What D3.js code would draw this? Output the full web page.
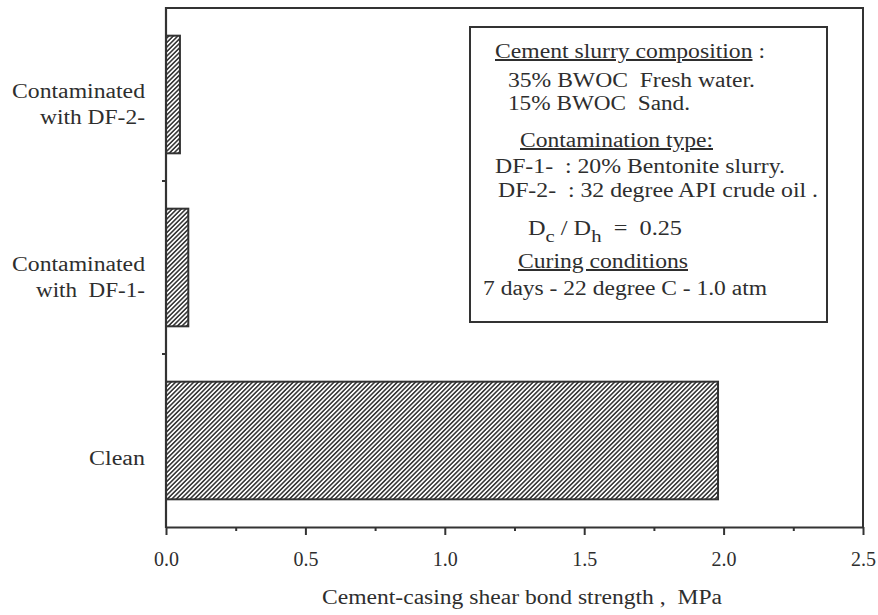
<!DOCTYPE html>
<html>
<head>
<meta charset="utf-8">
<script src="https://cdn.jsdelivr.net/npm/d3@7"></script>
<style>
  html, body { margin: 0; padding: 0; background: #fff; }
  svg text { font-family: "Liberation Serif", "DejaVu Serif", serif; fill: #2e2e2e; white-space: pre; }
  .axis path, .axis line { stroke: #333; }
</style>
</head>
<body>
<svg id="chart" width="878" height="615"></svg>
<script>
// categories, top to bottom as drawn
const CATEGORIES = ["DF-2", "DF-1", "Clean"];
const CATEGORY_LABELS = [
  ["Contaminated", "with DF-2-"],
  ["Contaminated", "with  DF-1-"],
  ["Clean"]
];
// shear bond strength, MPa
const STRENGTH = [0.05, 0.08, 1.98];

const X_MAJOR_TICKS = [0, 0.5, 1.0, 1.5, 2.0, 2.5];
const X_MINOR_TICKS = [0.25, 0.75, 1.25, 1.75, 2.25];
const X_TITLE = "Cement-casing shear bond strength ,  MPa";

const NOTE_LINES = [
  { text: "Cement slurry composition", tail: " :", underline: true },
  { text: "35% BWOC  Fresh water." },
  { text: "15% BWOC  Sand." },
  { text: "Contamination type:", underline: true },
  { text: "DF-1-  : 20% Bentonite slurry." },
  { text: "DF-2-  : 32 degree API crude oil ." },
  { text: "D|c / D|h  =  0.25", sub: true },
  { text: "Curing conditions", underline: true },
  { text: "7 days - 22 degree C - 1.0 atm" }
];

(function () {
  const svg = d3.select("#chart");
  const L = 166, R = 863, T = 8, B = 527;

  const x = d3.scaleLinear().domain([0, 2.5]).range([L, R]);
  const y = d3.scaleBand().domain(CATEGORIES).range([T, B])
    .paddingInner(0.32).paddingOuter(0.16);

  // hatch pattern ( "/" lines )
  const pat = svg.append("defs").append("pattern")
    .attr("id", "hatch")
    .attr("patternUnits", "userSpaceOnUse")
    .attr("width", 3.2).attr("height", 6)
    .attr("patternTransform", "rotate(45)");
  pat.append("rect").attr("width", 3.2).attr("height", 6).attr("fill", "#fff");
  pat.append("line")
    .attr("x1", 0.8).attr("y1", 0).attr("x2", 0.8).attr("y2", 6)
    .attr("stroke", "#3a3a3a").attr("stroke-width", 1.6);

  // frame top + right
  svg.append("path")
    .attr("d", `M${L},${T}H${R}V${B}`)
    .attr("fill", "none").attr("stroke", "#333").attr("stroke-width", 2);

  // bars
  svg.append("g").selectAll("rect")
    .data(CATEGORIES)
    .join("rect")
    .attr("x", x(0))
    .attr("y", d => y(d))
    .attr("width", (d, i) => x(STRENGTH[i]) - x(0))
    .attr("height", y.bandwidth())
    .attr("fill", "url(#hatch)")
    .attr("stroke", "#333").attr("stroke-width", 2);

  // x axis
  const gx = svg.append("g").attr("class", "axis")
    .attr("transform", `translate(0,${B})`)
    .call(d3.axisBottom(x).tickValues(X_MAJOR_TICKS).tickFormat(d3.format(".1f"))
      .tickSize(8).tickSizeOuter(0).tickPadding(17));
  gx.select(".domain").attr("stroke-width", 2.2);
  gx.selectAll(".tick line").attr("stroke-width", 2);
  gx.selectAll("text").style("font-size", "20px").attr("fill", "#2e2e2e")
    .attr("font-family", null);

  svg.append("g").attr("class", "axis")
    .attr("transform", `translate(0,${B})`)
    .call(d3.axisBottom(x).tickValues(X_MINOR_TICKS).tickFormat("").tickSize(4).tickSizeOuter(0))
    .call(g => g.select(".domain").remove())
    .selectAll(".tick line").attr("stroke-width", 2);

  svg.append("text")
    .attr("x", 322).attr("y", 604)
    .attr("textLength", 400).attr("lengthAdjust", "spacingAndGlyphs")
    .style("font-size", "20px")
    .text(X_TITLE);

  // y axis (left) with ticks at category boundaries
  svg.append("line")
    .attr("x1", L).attr("x2", L).attr("y1", T - 1).attr("y2", B + 1)
    .attr("stroke", "#333").attr("stroke-width", 2.2);
  const bounds = CATEGORIES.slice(1).map(c => y(c) - y.step() * y.paddingInner() / 2);
  svg.append("g").selectAll("line")
    .data(bounds)
    .join("line")
    .attr("x1", L - 4).attr("x2", L)
    .attr("y1", d => d).attr("y2", d => d)
    .attr("stroke", "#333").attr("stroke-width", 2);

  // category labels, one text per line, stretched to the scan's widths
  const labelW = { "Contaminated": 133, "with DF-2-": 105, "with  DF-1-": 109, "Clean": 56 };
  const labG = svg.append("g").style("font-size", "20px");
  CATEGORIES.forEach((c, i) => {
    const lines = CATEGORY_LABELS[i];
    const cy = y(c) + y.bandwidth() / 2;
    lines.forEach((s, k) => {
      const off = lines.length === 1 ? 24.5 : 3.5 + k * 25.5;
      labG.append("text")
        .attr("x", 145 - labelW[s]).attr("y", cy + off)
        .attr("textLength", labelW[s]).attr("lengthAdjust", "spacingAndGlyphs")
        .text(s);
    });
  });

  // note box
  svg.append("rect")
    .attr("x", 470).attr("y", 27).attr("width", 357).attr("height", 295)
    .attr("fill", "#fff").attr("stroke", "#333").attr("stroke-width", 2);

  const noteX = [495, 508, 508, 520, 495, 498, 528, 518, 483];
  const noteY = [58, 87, 110, 147, 173, 197, 235, 268, 295];
  const noteW = [270, 247, 182, 193, 290, 320, 154, 170, 284];
  const notes = svg.append("g").style("font-size", "20px");
  NOTE_LINES.forEach((ln, i) => {
    const t = notes.append("text").attr("x", noteX[i]).attr("y", noteY[i])
      .attr("textLength", noteW[i]).attr("lengthAdjust", "spacingAndGlyphs");
    if (ln.sub) {
      const parts = ln.text.split(" / ");
      const a = parts[0].split("|"), b = parts[1].split("|");
      const restB = b[1].split(" ");
      t.append("tspan").text(a[0]);
      t.append("tspan").attr("dy", 7).style("font-size", "17px").text(a[1]);
      t.append("tspan").attr("dy", -7).text(" / " + b[0]);
      t.append("tspan").attr("dy", 7).style("font-size", "17px").text(restB[0]);
      t.append("tspan").attr("dy", -7).text(" " + restB.slice(1).join(" "));
    } else {
      t.append("tspan")
        .style("text-decoration", ln.underline ? "underline" : null)
        .text(ln.text);
      if (ln.tail) t.append("tspan").text(ln.tail);
    }
  });
})();
</script>
</body>
</html>
